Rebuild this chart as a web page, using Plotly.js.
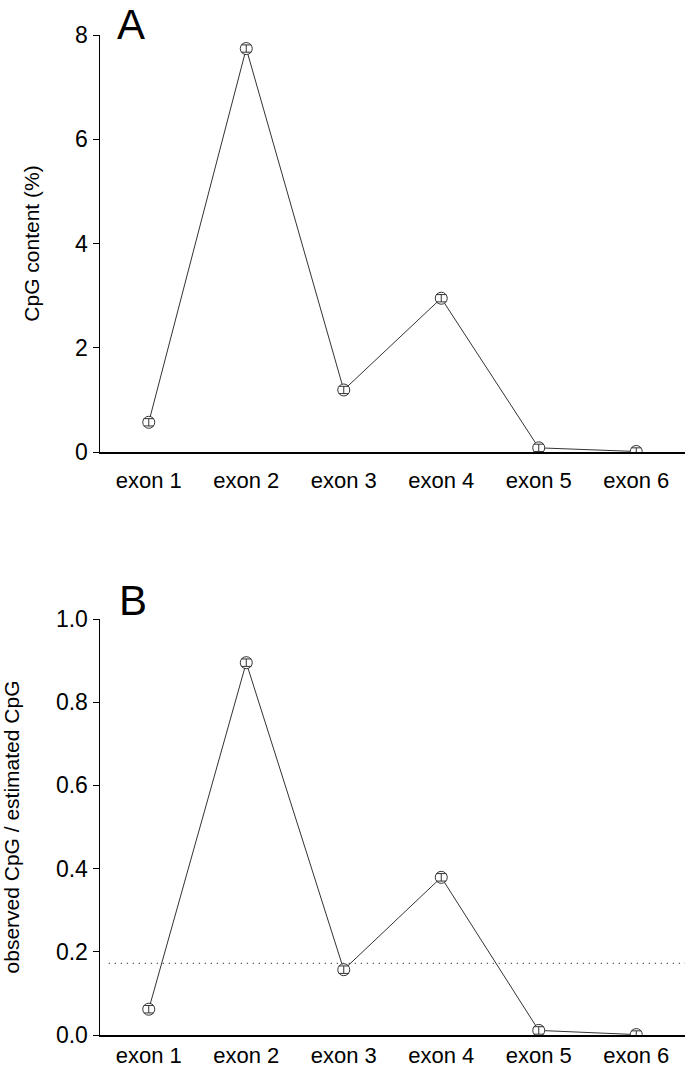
<!DOCTYPE html>
<html>
<head>
<meta charset="utf-8">
<script src="https://cdn.plot.ly/plotly-3.0.1.min.js"></script>
<style>html,body{margin:0;padding:0;background:#fff;} #chart{width:685px;height:1070px;}</style>
</head>
<body>
<div id="chart"></div>
<script>
const categories = ['exon 1', 'exon 2', 'exon 3', 'exon 4', 'exon 5', 'exon 6'];
const cpgContent = [0.57, 7.74, 1.19, 2.95, 0.08, 0.01];
const cpgContentErr = [0.07, 0.07, 0.07, 0.07, 0.07, 0.07];
const obsOverExp = [0.062, 0.895, 0.157, 0.379, 0.011, 0.001];
const obsOverExpErr = [0.009, 0.009, 0.009, 0.009, 0.009, 0.009];
const threshold = 0.172;
const yTicksA = [0, 2, 4, 6, 8];
const yTicksB = [0, 0.2, 0.4, 0.6, 0.8, 1.0];

const FONT = 'Liberation Sans, Arial, Helvetica, sans-serif';
const lineCol = '#333';

function mainTrace(y, xa, ya) {
  return {
    x: categories, y: y, xaxis: xa, yaxis: ya, type: 'scatter', mode: 'lines+markers',
    line: {color: lineCol, width: 1},
    marker: {symbol: 'circle', size: 12, color: '#fff', line: {color: lineCol, width: 1}},
    hoverinfo: 'skip', showlegend: false, cliponaxis: true
  };
}
function errTrace(y, err, xa, ya) {
  return {
    x: categories, y: y, xaxis: xa, yaxis: ya, type: 'scatter', mode: 'markers',
    marker: {size: 1, color: 'rgba(0,0,0,0)'},
    error_y: {type: 'data', array: err, visible: true, color: lineCol, thickness: 1, width: 5},
    hoverinfo: 'skip', showlegend: false, cliponaxis: true
  };
}

const data = [
  mainTrace(cpgContent, 'x', 'y'),
  errTrace(cpgContent, cpgContentErr, 'x', 'y'),
  mainTrace(obsOverExp, 'x2', 'y2'),
  errTrace(obsOverExp, obsOverExpErr, 'x2', 'y2')
];

const xCommon = {
  type: 'category', range: [-0.5, 5.5], showgrid: false, zeroline: false,
  showline: true, linecolor: '#000', linewidth: 1.5, ticks: '',
  tickfont: {family: FONT, size: 22, color: '#000'}, fixedrange: true
};
const yCommon = {
  showgrid: false, zeroline: false, showline: true, linecolor: '#000', linewidth: 1.5,
  ticks: 'outside', ticklen: 6, tickwidth: 1, tickcolor: '#000',
  tickfont: {family: FONT, size: 23, color: '#000'}, fixedrange: true
};

const layout = {
  width: 685, height: 1070,
  margin: {l: 100, r: 0, t: 0, b: 0},
  paper_bgcolor: '#fff', plot_bgcolor: '#fff',
  font: {family: FONT, color: '#000'},
  xaxis: Object.assign({}, xCommon, {domain: [0, 1], anchor: 'y', ticklabelstandoff: 8}),
  yaxis: Object.assign({}, yCommon, {
    domain: [1 - 452/1070, 1 - 35/1070], anchor: 'x', range: [0, 8],
    tickvals: yTicksA, ticktext: yTicksA.map(v => String(v)),
    title: {text: 'CpG content (%)', font: {family: FONT, size: 21, color: '#000'}, standoff: 30}
  }),
  xaxis2: Object.assign({}, xCommon, {domain: [0, 1], anchor: 'y2', ticklabelstandoff: 0}),
  yaxis2: Object.assign({}, yCommon, {
    domain: [1 - 1035/1070, 1 - 619/1070], anchor: 'x2', range: [0, 1],
    tickvals: yTicksB, ticktext: yTicksB.map(v => v.toFixed(1)),
    title: {text: 'observed CpG / estimated CpG', font: {family: FONT, size: 21, color: '#000'}, standoff: 31}
  }),
  shapes: [{
    type: 'line', xref: 'x2 domain', x0: 0.015, x1: 1, yref: 'y2', y0: threshold, y1: threshold,
    line: {color: '#333', width: 1.3, dash: '1px,5px'}, layer: 'below'
  }],
  annotations: [
    {text: 'A', xref: 'paper', yref: 'paper', x: 16/585, y: 1, xanchor: 'left', yanchor: 'top',
     borderpad: 0, showarrow: false, font: {family: FONT, size: 42, color: '#000'}},
    {text: 'B', xref: 'paper', yref: 'paper', x: 18/585, y: 1 - 576/1070, xanchor: 'left', yanchor: 'top',
     borderpad: 0, showarrow: false, font: {family: FONT, size: 42, color: '#000'}}
  ]
};

Plotly.newPlot('chart', data, layout, {displayModeBar: false, staticPlot: true});
</script>
</body>
</html>
